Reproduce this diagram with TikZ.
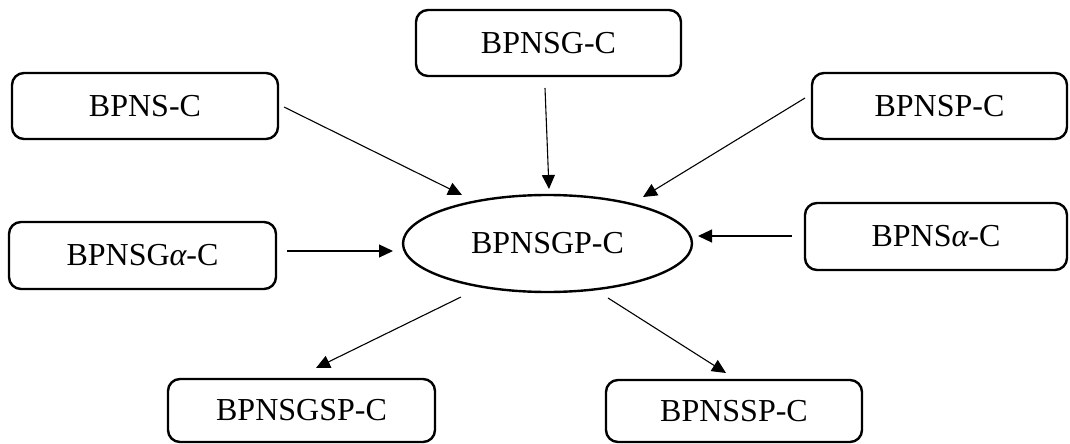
\documentclass[tikz,border=0pt]{standalone}
\usepackage{fontspec}
\setmainfont{Liberation Serif}
\usetikzlibrary{arrows.meta,shapes.geometric}
\newcommand{\galpha}{{\itshape α}}
\begin{document}
\begin{tikzpicture}[x=1pt,y=-1pt,
  box/.style={draw,line width=2.4pt,rounded corners=12pt,inner sep=0pt,
    font=\fontsize{32}{38}\selectfont},
  oval/.style={draw,ellipse,line width=2.4pt,inner sep=0pt,
    font=\fontsize{32}{38}\selectfont},
  arr/.style={line width=1.1pt,-{Triangle[length=14pt,width=13pt]}}]
\useasboundingbox (0,0) rectangle (1070,444);
% nodes
\node[box,minimum width=265pt,minimum height=66pt] (g) at (548.5,43) {BPNSG-C};
\node[box,minimum width=266pt,minimum height=66pt] (n) at (145,106) {BPNS-C};
\node[box,minimum width=255pt,minimum height=66pt] (p) at (939.5,106) {BPNSP-C};
\node[box,minimum width=267pt,minimum height=67pt] (ga) at (142.5,255.5) {BPNSG\galpha-C};
\node[box,minimum width=262pt,minimum height=67pt] (na) at (936,236.5) {BPNS\galpha-C};
\node[box,minimum width=267pt,minimum height=63pt] (gsp) at (301.5,410.5) {BPNSGSP-C};
\node[box,minimum width=256pt,minimum height=62pt] (ssp) at (734,411) {BPNSSP-C};
\node[oval,minimum width=289pt,minimum height=97pt] (c) at (547.5,243.5) {BPNSGP-C};
% connector end points
\coordinate (n1) at (284,107);  \coordinate (c1) at (462,195);
\coordinate (g1) at (545,88);   \coordinate (c2) at (549,189);
\coordinate (p1) at (805,98);   \coordinate (c3) at (643,197);
\coordinate (ga1) at (287,251); \coordinate (c4) at (393,251);
\coordinate (na1) at (792,236); \coordinate (c5) at (698,236);
\coordinate (c6) at (461,297);  \coordinate (gsp1) at (316,368);
\coordinate (c7) at (608,298);  \coordinate (ssp1) at (726,373);
% connectors
\draw[arr] (n1) -- (c1);
\draw[arr] (g1) -- (c2);
\draw[arr] (p1) -- (c3);
\draw[arr] (ga1) -- (c4);
\draw[arr] (na1) -- (c5);
\draw[arr] (c6) -- (gsp1);
\draw[arr] (c7) -- (ssp1);
\end{tikzpicture}
\end{document}
